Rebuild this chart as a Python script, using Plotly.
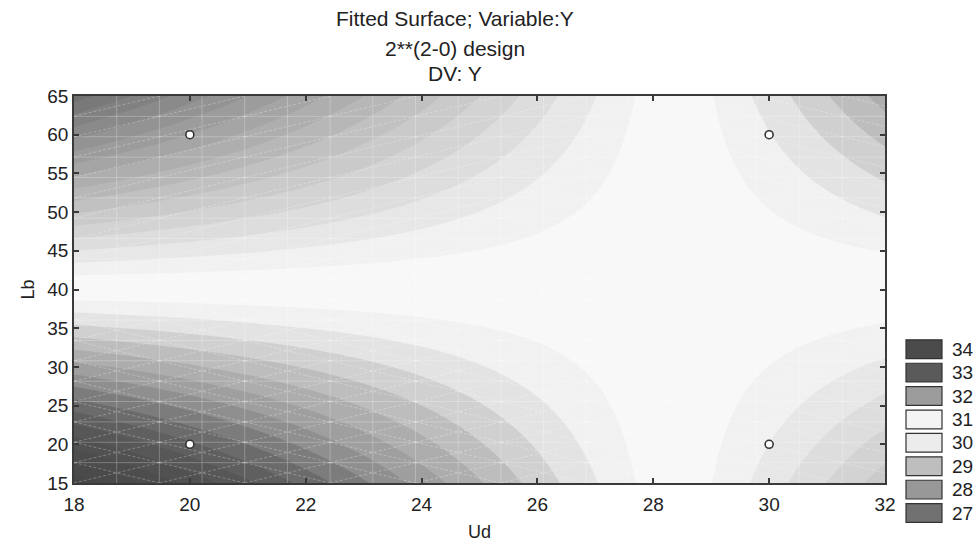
import numpy as np
import plotly.graph_objects as go

# ---- data -------------------------------------------------------------
# 2**(2-0) design points (Ud, Lb) and observed response Y
ud_pts = [20, 20, 30, 30]
lb_pts = [20, 60, 20, 60]
y_pts = [33.10, 28.06, 30.05, 31.04]

x_ticks = [18, 20, 22, 24, 26, 28, 30, 32]
y_ticks = [15, 20, 25, 30, 35, 40, 45, 50, 55, 60, 65]

legend_labels = ["34", "33", "32", "31", "30", "29", "28", "27"]
legend_colors = ["#4b4b4b", "#5a5a5a", "#9c9c9c", "#f4f4f4",
                 "#ececec", "#bebebe", "#989898", "#717171"]

# grey shade (0-255) attached to response values for the fill
shade_values = [26.4, 26.6, 26.9, 27.2, 27.47, 27.75, 28.0, 28.25, 28.55, 28.8,
                29.05, 29.3, 29.55, 29.8, 30.05, 30.3, 30.55,
                30.8, 31.05, 31.3, 31.55, 31.8, 32.05, 32.3, 32.55, 32.8, 33.05,
                33.3, 33.6, 34.0, 34.9]
shade_greys = [104, 110, 120, 130, 140, 150, 158, 168, 178, 188,
               198, 206, 216, 226, 236, 245, 250,
               246, 236, 218, 198, 180, 166, 152, 134, 114, 100,
               90, 82, 76, 68]

# ---- fitted surface (linear + interaction model) ----------------------
x1 = (np.array(ud_pts) - 25.0) / 5.0
x2 = (np.array(lb_pts) - 40.0) / 20.0
X = np.column_stack([np.ones(4), x1, x2, x1 * x2])
b = np.linalg.lstsq(X, np.array(y_pts), rcond=None)[0]

ug = np.linspace(18, 32, 281)
lg = np.linspace(15, 65, 251)
U, L = np.meshgrid(ug, lg)
c1 = (U - 25.0) / 5.0
c2 = (L - 40.0) / 20.0
Z = b[0] + b[1] * c1 + b[2] * c2 + b[3] * c1 * c2

# contour levels, one passing through the saddle value
saddle = b[0] - b[1] * b[2] / b[3]
u_sad = 25.0 + 5.0 * (-b[2] / b[3])
l_sad = 40.0 + 20.0 * (-b[1] / b[3])
step = 0.25
start = saddle - 16 * step + 0.001
end = saddle + 17 * step + 0.001
lo, hi = start - step / 2, end + step / 2
colorscale = []
for v, g in zip(shade_values, shade_greys):
    p = min(max((v - lo) / (hi - lo), 0.0), 1.0)
    colorscale.append([p, f"rgb({g},{g},{g})"])
colorscale[0][0] = 0.0
colorscale[-1][0] = 1.0

fig = go.Figure()
fig.add_trace(go.Contour(
    x=ug, y=lg, z=Z,
    colorscale=colorscale,
    contours=dict(start=start, end=end, size=step, coloring="fill", showlines=False),
    line=dict(width=0),
    showscale=False,
    hoverinfo="skip",
))

# faint triangulation mesh of the surface plot (19 x 19 cells)
n_cells = 19
du = 14.0 / n_cells
dl = 50.0 / n_cells
mx, my = [], []
for i in range(1, n_cells):
    mx += [18 + i * du, 18 + i * du, None]
    my += [15, 65, None]
    mx += [18, 32, None]
    my += [15 + i * dl, 15 + i * dl, None]
fig.add_trace(go.Scatter(x=mx, y=my, mode="lines",
                         line=dict(color="rgba(255,255,255,0.26)", width=1),
                         hoverinfo="skip", showlegend=False))
dx, dy = [], []
for i in range(0, n_cells, 2):
    for j in range(0, n_cells):
        ua, ub = 18 + i * du, 18 + (i + 2) * du
        la, lb_ = 15 + j * dl, 15 + (j + 1) * dl
        uc = 0.5 * (ua + ub)
        lc = 0.5 * (la + lb_)
        if uc < u_sad:
            dx += [ua, ub, None]
            dy += [la, lb_, None]
        if (uc < u_sad and lc < l_sad) or uc >= u_sad:
            dx += [ua, ub, None]
            dy += [lb_, la, None]
fig.add_trace(go.Scatter(x=dx, y=dy, mode="lines",
                         line=dict(color="rgba(255,255,255,0.28)", width=1, dash="3px,2px"),
                         hoverinfo="skip", showlegend=False))

fig.add_trace(go.Scatter(
    x=ud_pts, y=lb_pts, mode="markers",
    marker=dict(size=8, color="white", line=dict(color="#333333", width=1.6)),
    showlegend=False, hoverinfo="skip",
))

FONT = "Liberation Sans, Arial"
axis_common = dict(
    showgrid=False, zeroline=False, showline=True, linecolor="#3a3a3a", linewidth=1.6,
    mirror="ticks", ticks="inside", ticklen=5, tickwidth=1.5, tickcolor="#3a3a3a",
    tickfont=dict(family=FONT, size=19, color="#222222"),
)
fig.update_xaxes(range=[18, 32], tickvals=x_ticks, ticktext=[str(t) for t in x_ticks],
                 ticklabelstandoff=3,
                 title=dict(text="Ud", font=dict(family=FONT, size=18, color="#222222"),
                            standoff=12),
                 **axis_common)
fig.update_yaxes(range=[15, 65], tickvals=y_ticks, ticktext=[str(t) for t in y_ticks],
                 title=dict(text="Lb", font=dict(family=FONT, size=18, color="#222222"),
                            standoff=8),
                 **axis_common)

# titles
PL, PR, PT, PB = 74, 91, 96, 63
W, H = 976, 551
pw, ph = W - PL - PR, H - PT - PB

def px_x(x):
    return (x - PL) / pw

def px_y(y):
    return (H - PB - y) / ph

title_lines = ["Fitted Surface; Variable:Y", "2**(2-0) design", "DV: Y"]
title_y = [18, 48, 73]
annotations = []
for t, yy in zip(title_lines, title_y):
    annotations.append(dict(text=t, x=px_x(455), y=px_y(yy), xref="paper", yref="paper",
                            showarrow=False, xanchor="center", yanchor="middle",
                            font=dict(family=FONT, size=21, color="#222222")))

shapes = []
box_top0, box_step, box_h = 343, 23.7, 19
for i, (lab, col) in enumerate(zip(legend_labels, legend_colors)):
    y0 = box_top0 + i * box_step
    shapes.append(dict(type="rect", xref="paper", yref="paper",
                       x0=px_x(906), x1=px_x(942), y0=px_y(y0 + box_h), y1=px_y(y0),
                       fillcolor=col, line=dict(color="#333333", width=1.2)))
    annotations.append(dict(text=lab, x=px_x(950), y=px_y(y0 + box_h / 2), xref="paper", yref="paper",
                            showarrow=False, xanchor="left", yanchor="middle",
                            font=dict(family=FONT, size=19, color="#222222")))

fig.update_layout(
    width=W, height=H,
    margin=dict(l=PL, r=PR, t=PT, b=PB, pad=0),
    paper_bgcolor="white", plot_bgcolor="white",
    annotations=annotations, shapes=shapes,
    showlegend=False,
)

fig.write_html("out.html")
